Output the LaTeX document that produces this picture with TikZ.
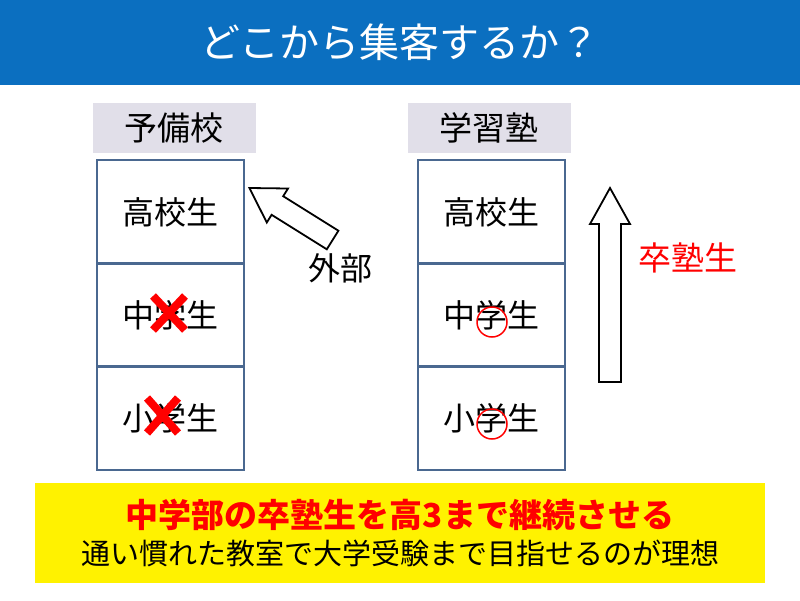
\documentclass[tikz,border=0pt]{standalone}
\usepackage{fontspec}
\setmainfont{Noto Sans CJK JP}
\definecolor{titleblue}{HTML}{0B6FC0}
\definecolor{labgray}{HTML}{E1DFE9}
\definecolor{cellline}{HTML}{4A6890}
\definecolor{xred}{HTML}{FF0000}
\tikzset{
 cell/.style={draw=cellline,line width=1.3pt,minimum width=147pt,minimum height=104pt,inner sep=0,font=\fontsize{32}{36}\selectfont},
 lab/.style={fill=labgray,minimum width=163pt,minimum height=50pt,inner sep=0,font=\fontsize{33}{36}\selectfont},
 hollow/.style={draw=black,line width=1.8pt,fill=white,line join=miter},
 cross/.style={draw=xred,line width=8pt},
 ring/.style={draw=xred,line width=1.5pt}
}
\begin{document}
\begin{tikzpicture}[x=1pt,y=-1pt]
\useasboundingbox (0,0) rectangle (800,600);
\fill[white] (0,0) rectangle (800,600);
\fill[titleblue] (0,0) rectangle (800,85);
\node[text=white,font=\fontsize{40}{44}\selectfont] (title) at (400,42) {どこから集客するか？};
\node[lab] (yobi) at (174,128) {予備校};
\node[lab] (juku) at (489,128) {学習塾};
\node[cell] (l1) at (170.5,212) {高校生};
\node[cell] (l2) at (170.5,315) {中学生};
\node[cell] (l3) at (170.5,418) {小学生};
\node[cell] (r1) at (491.5,212) {高校生};
\node[cell] (r2) at (491.5,315) {中学生};
\node[cell] (r3) at (491.5,418) {小学生};
\draw[cross] (153,296) -- (185,330) (185,296) -- (153,330);
\draw[cross] (147,398) -- (178,433) (178,398) -- (147,433);
\draw[ring] (492,322) circle (15);
\draw[ring] (492,424) circle (15);
\draw[hollow] (338.4,230.7) -- (283.2,196.2) -- (288.0,188.5) -- (249.4,188.0) -- (266.8,222.5) -- (271.6,214.8) -- (326.8,249.3) -- cycle;
\node[font=\fontsize{32}{36}\selectfont] (gaibu) at (340,268) {外部};
\draw[hollow] (599,382) -- (599,224) -- (590,224) -- (610,188) -- (630,224) -- (621,224) -- (621,382) -- cycle;
\node[text=xred,font=\fontsize{33}{36}\selectfont] (sotsu) at (688,258) {卒塾生};
\fill[yellow] (35,483) rectangle (765,583);
\node[text=xred,font=\bfseries\fontsize{33}{36}\selectfont] (t1) at (400,515) {中学部の卒塾生を高3まで継続させる};
\node[font=\fontsize{29}{32}\selectfont] (t2) at (400,553) {通い慣れた教室で大学受験まで目指せるのが理想};
\end{tikzpicture}
\end{document}
